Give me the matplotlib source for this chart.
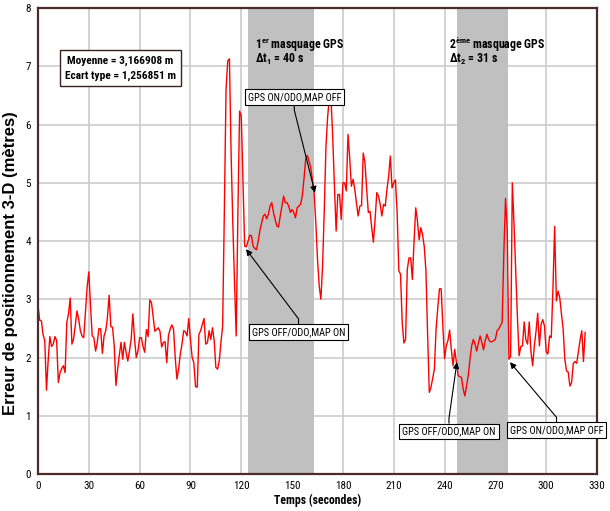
import matplotlib
matplotlib.use("Agg")
import matplotlib.pyplot as plt
from matplotlib import font_manager
import numpy as np

# ---------------- data ----------------
time_s = list(range(0, 324))
error_m = [
    2.89, 2.64, 2.63, 2.39, 2.29, 1.44, 1.95, 2.36, 2.19, 2.23,
    2.36, 2.29, 1.57, 1.74, 1.81, 1.86, 1.74, 2.60, 2.75, 3.02,
    2.23, 2.32, 2.55, 2.80, 2.66, 2.46, 2.37, 2.34, 2.78, 3.21,
    3.47, 2.89, 2.37, 2.34, 2.11, 2.26, 2.50, 2.49, 2.07, 2.37,
    2.46, 2.69, 3.07, 2.53, 2.52, 2.20, 1.52, 1.80, 2.04, 2.26,
    1.97, 2.26, 2.09, 1.94, 2.11, 2.32, 2.75, 2.32, 2.00, 2.11,
    2.34, 2.34, 2.19, 2.09, 2.48, 2.36, 2.99, 2.94, 2.70, 2.45,
    2.48, 2.51, 2.45, 2.18, 2.26, 2.27, 1.91, 2.37, 2.49, 2.56,
    2.49, 2.00, 1.63, 1.80, 2.06, 2.23, 2.46, 2.44, 2.37, 2.67,
    2.31, 2.00, 1.91, 1.50, 1.49, 2.40, 2.46, 2.57, 2.67, 2.23,
    2.25, 2.46, 2.31, 2.51, 2.29, 1.83, 1.80, 1.94, 2.26, 2.54,
    4.50, 6.60, 7.09, 7.13, 5.50, 4.30, 3.30, 2.37, 4.47, 6.23,
    6.14, 5.00, 3.91, 3.90, 4.00, 4.10, 4.09, 3.91, 3.87, 3.85,
    4.00, 4.18, 4.31, 4.43, 4.46, 4.38, 4.46, 4.60, 4.66, 4.49,
    4.37, 4.26, 4.24, 4.43, 4.60, 4.77, 4.66, 4.66, 4.60, 4.49,
    4.54, 4.49, 4.40, 4.57, 4.60, 4.63, 4.77, 5.06, 5.40, 5.47,
    5.37, 5.26, 5.05, 4.83, 4.31, 3.69, 3.23, 3.00, 3.57, 4.54,
    5.63, 6.14, 6.46, 6.43, 5.77, 4.94, 4.17, 4.80, 4.80, 4.37,
    5.00, 5.00, 4.86, 5.83, 5.43, 4.94, 5.06, 4.89, 4.65, 4.43,
    4.60, 4.61, 5.51, 5.35, 4.90, 4.49, 4.51, 4.23, 3.98, 4.37,
    4.83, 4.77, 4.63, 4.43, 4.63, 4.60, 4.89, 5.11, 5.46, 4.91,
    5.00, 5.05, 4.49, 3.49, 3.43, 2.60, 2.25, 2.31, 3.51, 3.71,
    3.71, 3.34, 4.00, 4.57, 4.34, 4.02, 4.23, 4.11, 3.91, 3.49,
    2.40, 1.40, 1.49, 1.65, 1.80, 2.49, 2.85, 3.18, 3.18, 2.54,
    1.98, 2.20, 2.29, 2.47, 2.14, 1.86, 2.14, 1.91, 1.69, 1.67,
    1.66, 1.46, 1.34, 1.51, 1.69, 1.97, 2.20, 2.31, 2.23, 2.11,
    2.25, 2.37, 2.26, 2.13, 2.29, 2.40, 2.31, 2.27, 2.27, 2.29,
    2.31, 2.46, 2.49, 2.55, 2.60, 3.80, 4.73, 4.20, 1.97, 2.02,
    5.00, 4.30, 3.50, 2.70, 2.03, 2.19, 2.20, 2.61, 2.31, 2.23,
    2.61, 2.10, 1.86, 2.20, 2.45, 2.76, 2.20, 2.57, 2.65, 2.54,
    2.10, 2.06, 2.37, 2.34, 3.20, 4.25, 2.97, 3.14, 3.03, 2.75,
    2.49, 1.97, 1.77, 1.75, 1.51, 1.57, 1.90, 1.93, 1.90, 2.10,
    2.30, 2.46, 1.93, 2.43,
]
x_ticks = [0, 30, 60, 90, 120, 150, 180, 210, 240, 270, 300, 330]
y_ticks = [0, 1, 2, 3, 4, 5, 6, 7, 8]
mask_start = [124.0, 247.3]
mask_end = [163.0, 277.4]
mean_val = "3,166908"
std_val = "1,256851"

ann_labels = ["GPS ON/ODO,MAP OFF", "GPS OFF/ODO,MAP ON",
              "GPS OFF/ODO,MAP ON", "GPS ON/ODO,MAP OFF"]
ann_text_x = [151.3, 153.8, 242.6, 306.1]
ann_text_y = [6.47, 2.44, 0.73, 0.75]
ann_tip_x = [163.5, 122.8, 247.3, 278.6]
ann_tip_y = [4.83, 3.86, 1.92, 1.92]

# ---------------- fonts ----------------
names = {f.name for f in font_manager.fontManager.ttflist}
chosen = 'Liberation Sans'
for cand in ['Roboto Condensed', 'Liberation Sans Narrow', 'Arial Narrow']:
    if cand in names:
        chosen = cand
        break
narrow = [chosen, 'DejaVu Sans']
plt.rcParams['font.family'] = narrow
plt.rcParams['mathtext.fontset'] = 'custom'
plt.rcParams['mathtext.rm'] = chosen
plt.rcParams['mathtext.it'] = chosen + ':italic'
plt.rcParams['mathtext.bf'] = chosen + ':bold'

fig = plt.figure(figsize=(6.10, 5.11), dpi=100)
ax = fig.add_axes([0.0623, 0.0724, 0.9164, 0.9119])

ax.set_xlim(0, 330)
ax.set_ylim(0, 8)
ax.set_xticks(x_ticks)
ax.set_yticks(y_ticks)
ax.tick_params(length=0, labelsize=8, pad=5)

ax.grid(True, color='#cccccc', linewidth=1.2, zorder=0)
ax.set_axisbelow(True)

for s, e in zip(mask_start, mask_end):
    ax.axvspan(s, e, color='#c0c0c0', zorder=1, linewidth=0)

ax.plot(time_s, error_m, color='#ff0000', linewidth=1.0, zorder=3)

for sp in ax.spines.values():
    sp.set_color('#4a2c2a')
    sp.set_linewidth(1.6)
    sp.set_zorder(5)

ax.set_xlabel("Temps (secondes)", fontsize=8.5, fontweight='bold', labelpad=2)
ax.set_ylabel("Erreur de positionnement 3-D (mètres)", fontsize=12,
              fontweight='bold',
              family=['Liberation Sans', 'DejaVu Sans'])
ax.yaxis.set_label_coords(-0.035, 0.452)

ax.text(48.7, 6.97, f"Moyenne = {mean_val} m\nEcart type = {std_val} m",
        ha='center', va='center', fontsize=8.2, fontweight='bold',
        linespacing=1.6, zorder=6,
        bbox=dict(boxstyle='square,pad=0.45', facecolor='white',
                  edgecolor='#3a2222', linewidth=1.0))

ax.text(128.1, 7.30, r"1$^{\mathbf{er}}$ masquage GPS", fontsize=8.6,
        fontweight='bold', va='baseline', ha='left', zorder=6)
ax.text(128.1, 7.055, r"Δt$_{\mathbf{1}}$ = 40 s", fontsize=8.6,
        fontweight='bold', va='baseline', ha='left', zorder=6)
ax.text(242.8, 7.30, r"2$^{\mathbf{ème}}$ masquage GPS", fontsize=8.6,
        fontweight='bold', va='baseline', ha='left', zorder=6)
ax.text(242.8, 7.055, r"Δt$_{\mathbf{2}}$ = 31 s", fontsize=8.6,
        fontweight='bold', va='baseline', ha='left', zorder=6)

for lab, tx, ty, px, py in zip(ann_labels, ann_text_x, ann_text_y,
                               ann_tip_x, ann_tip_y):
    up = py > ty
    ax.annotate(lab, xy=(px, py), xytext=(tx, ty),
                ha='center', va='center', fontsize=7.5, zorder=7,
                bbox=dict(boxstyle='square,pad=0.28', facecolor='white',
                          edgecolor='black', linewidth=0.8),
                arrowprops=dict(arrowstyle='-|>', color='black', lw=0.8,
                                mutation_scale=9,
                                relpos=(0.5, 1.0) if up else (0.5, 0.0),
                                connectionstyle=("arc,angleA=%d,armA=8,angleB=0,armB=0,rad=0"
                                                 % (90 if up else -90)),
                                shrinkA=0, shrinkB=0),
                annotation_clip=False)

fig.savefig("out.png", dpi=100)
